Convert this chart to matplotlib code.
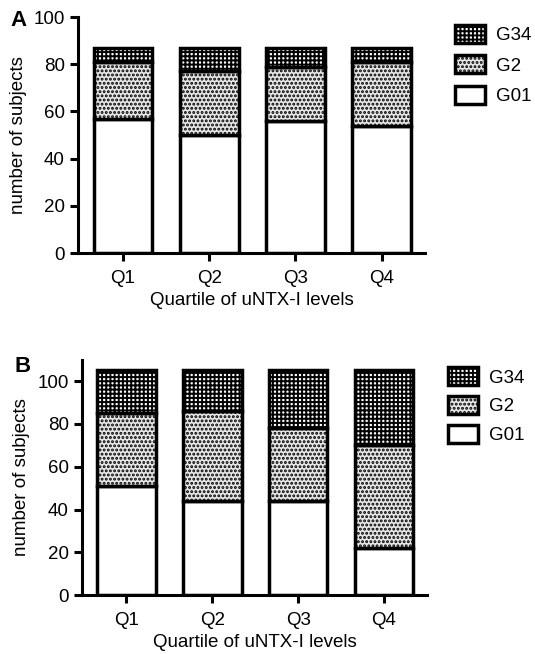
import numpy as np
import matplotlib
matplotlib.use('Agg')
import matplotlib.pyplot as plt

plt.rcParams['font.family'] = ['Liberation Sans', 'DejaVu Sans']
plt.rcParams['hatch.linewidth'] = 1.4

quartiles = ['Q1', 'Q2', 'Q3', 'Q4']
groups = ['G01', 'G2', 'G34']

# panel A counts per quartile
a_g01 = [57, 50, 56, 54]
a_g2 = [24, 27, 23, 27]
a_g34 = [6, 10, 8, 6]

# panel B counts per quartile
b_g01 = [51, 44, 44, 22]
b_g2 = [34, 42, 34, 48]
b_g34 = [20, 19, 27, 35]

styles = {
  'G01': dict(facecolor='white', hatch=None),
  'G2': dict(facecolor='#e6e6e6', hatch='....'),
  'G34': dict(facecolor='white', hatch='++++'),
}

fig = plt.figure(figsize=(5.35, 6.54), dpi=100)
axA = fig.add_axes([0.146, 0.613, 0.648, 0.361])
axB = fig.add_axes([0.153, 0.090, 0.645, 0.360])

def draw_panel(ax, series, ymax, yticks, letter, letter_y, legend_x, legend_y, spacing):
  x = np.arange(len(quartiles))
  bottom = np.zeros(len(quartiles))
  handles = []
  for name, vals in zip(groups, series):
    st = styles[name]
    bars = ax.bar(x, vals, width=0.68, bottom=bottom, facecolor=st['facecolor'],
                  edgecolor='black', linewidth=2.5, hatch=st['hatch'], label=name)
    bottom += np.array(vals)
    handles.append(bars)
  ax.set_xlim(-0.52, 3.5)
  ax.set_ylim(0, ymax)
  ax.set_yticks(yticks)
  ax.set_xticks(x)
  ax.set_xticklabels(quartiles)
  for s in ['top', 'right']:
    ax.spines[s].set_visible(False)
  for s in ['left', 'bottom']:
    ax.spines[s].set_linewidth(2.2)
  ax.tick_params(axis='both', width=2.2, length=6, labelsize=13.5, direction='out')
  ax.tick_params(axis='x', pad=6)
  ax.set_ylabel('number of subjects', fontsize=13.5, labelpad=5)
  ax.set_xlabel('Quartile of uNTX-I levels', fontsize=13.5, labelpad=4)
  ax.text(-0.195, letter_y, letter, transform=ax.transAxes, fontsize=16,
          fontweight='bold', va='center', ha='left')
  ax.legend(handles[::-1], groups[::-1], loc='upper left',
            bbox_to_anchor=(legend_x, legend_y), frameon=False, fontsize=13.5,
            handlelength=1.6, handleheight=1.1, labelspacing=spacing,
            handletextpad=0.6, borderaxespad=0)

draw_panel(axA, [a_g01, a_g2, a_g34], 100, [0, 20, 40, 60, 80, 100], 'A', 0.985,
           1.066, 1.0, 0.6)
draw_panel(axB, [b_g01, b_g2, b_g34], 110, [0, 20, 40, 60, 80, 100], 'B', 0.97,
           1.04, 1.0, 0.5)

fig.savefig('out.png', dpi=100)
